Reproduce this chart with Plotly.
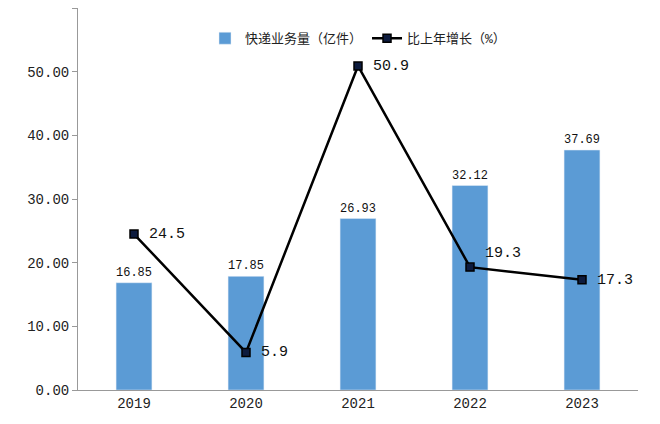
#import libraries: plotly graph_objects
import plotly.graph_objects as go

# data
years = ["2019", "2020", "2021", "2022", "2023"]
volume = [16.85, 17.85, 26.93, 32.12, 37.69] # express volume (100 million)
growth = [24.5, 5.9, 50.9, 19.3, 17.3] # growth over last year (%)

font_name = "Liberation Mono, Noto Sans CJK SC"

#create the chart :
fig = go.Figure()
fig.add_trace(go.Bar(x=years, y=volume, name="快递业务量（亿件）",
                     marker_color="#5b9bd5", width=0.32,
                     text=[f"{v:.2f}" for v in volume], textposition="outside",
                     textfont=dict(size=15, color="#111111")))
fig.add_trace(go.Scatter(x=years, y=growth, name="比上年增长（%）",
                         mode="lines+markers+text",
                         line=dict(color="black", width=2.5),
                         marker=dict(symbol="square", size=8, color="#0d1b3e",
                                     line=dict(color="black", width=1.5)),
                         text=[f" {v}" for v in growth],
                         textposition=["middle right", "middle right", "middle right",
                                       "top right", "middle right"],
                         textfont=dict(size=15, color="#111111")))
fig.update_layout(width=660, height=424, plot_bgcolor="white", paper_bgcolor="white",
                  margin=dict(l=70, r=30, t=0, b=42, autoexpand=False),
                  font=dict(family=font_name, size=14, color="#222222"),
                  bargap=0.6, showlegend=True,
                  legend=dict(orientation="h", x=0.5, xanchor="center", y=0.96, yanchor="top",
                              font=dict(size=13), bgcolor="rgba(0,0,0,0)"))
fig.update_yaxes(range=[0, 60], dtick=10, tickformat=".2f", showgrid=False,
                 showline=True, linecolor="#999999", ticks="outside", tickcolor="#999999")
fig.update_xaxes(showline=True, linecolor="#999999", showgrid=False)
# save it in HTML
fig.write_html("out.html")
